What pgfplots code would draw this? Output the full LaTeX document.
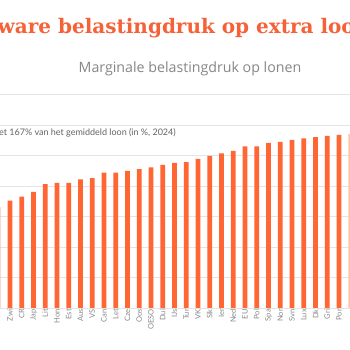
\documentclass[border=0pt]{standalone}
\usepackage{pgfplots}
\pgfplotsset{compat=1.18}
\usepackage{fontspec}
\setmainfont{Lato}
\newfontfamily\titlefont{DejaVu Serif}
\newfontfamily\subfont{Open Sans}
\definecolor{barc}{RGB}{255,102,51}
\definecolor{titlec}{RGB}{245,98,55}
\definecolor{subc}{RGB}{135,135,135}
\definecolor{notec}{RGB}{100,100,100}
\definecolor{gridc}{RGB}{228,228,228}
\begin{document}
\begin{tikzpicture}
\useasboundingbox (0,0) rectangle (350pt,350pt);
\clip (0,0) rectangle (350pt,350pt);
\fill[white] (0,0) rectangle (350pt,350pt);
\begin{axis}[
  at={(0pt,42pt)}, anchor=south west,
  width=350pt, height=213.5pt, scale only axis,
  xmin=-0.851, xmax=28.936, ymin=0, ymax=70,
  axis line style={draw=none}, tick style={draw=none},
  ytick={0,10,...,70}, yticklabels={},
  ymajorgrids, grid style={gridc, line width=0.6pt},
  xtick={0,...,28},
  xticklabels={Zwi,CR,Jap,Lit,Hon,Est,Aus,VS,Can,Let,Cze,Oos,OESO,Dui,IJs,Tur,VK,Slk,Ier,Ned,EU,Pol,Spa,Nor,Svn,Lux,Dk,Gri,Por},
  xticklabel style={rotate=90, anchor=east, font=\fontsize{7.5}{8}\selectfont, text=subc, inner sep=1pt},
  clip=true,
]
\addplot[ybar, bar shift=0pt, bar width=4.7pt, fill=barc, draw=none] coordinates {
(0,35.2) (1,36.5) (2,38.1) (3,40.6) (4,41.0) (5,41.0) (6,42.2) (7,42.6) (8,44.4) (9,44.4)
(10,45.0) (11,45.5) (12,46.1) (13,46.9) (14,47.6) (15,47.8) (16,48.9) (17,49.9) (18,50.7) (19,51.5)
(20,53.0) (21,53.0) (22,54.1) (23,54.5) (24,55.1) (25,55.6) (26,56.0) (27,56.4) (28,56.8)};
\addplot[ybar, bar shift=0pt, bar width=4.7pt, fill=barc!40, draw=none] coordinates {(-1,33.1) (29,57.0)};
\end{axis}
\node[anchor=base east, text=titlec, font=\titlefont\bfseries\fontsize{20}{23}\selectfont, inner sep=0pt] at (355pt,316.7pt) {Zware belastingdruk op extra loo};
\node[anchor=base west, text=titlec, font=\titlefont\bfseries\fontsize{20}{23}\selectfont, inner sep=0pt] at (355pt,316.7pt) {n};
\node[anchor=base, text=subc, font=\subfont\fontsize{14.2}{16}\selectfont] at (190pt,277.5pt) {Marginale belastingdruk op lonen};
\node[anchor=base east, text=notec, font=\fontsize{9}{10}\selectfont, inner sep=0pt] at (176pt,214.5pt) {met 167\% van het gemiddeld loon (in \%, 2024)};
\end{tikzpicture}
\end{document}
